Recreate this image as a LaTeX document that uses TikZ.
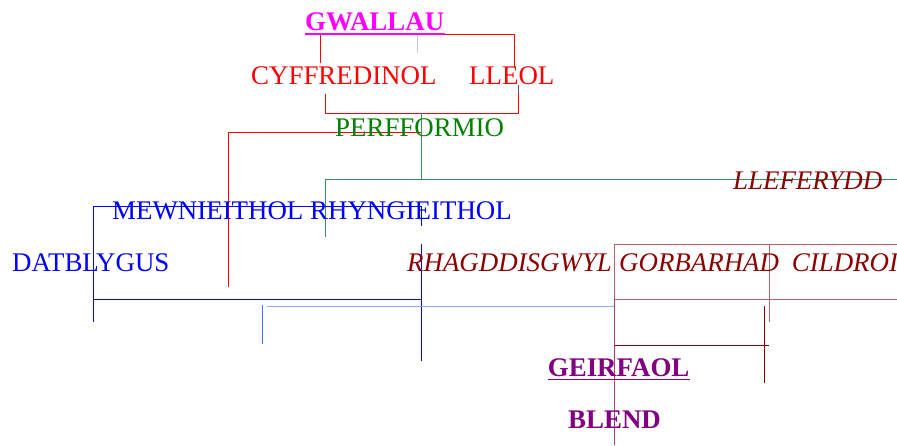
\documentclass[tikz,border=0pt]{standalone}
\usepackage{fontspec}
\setmainfont{Liberation Serif}
\definecolor{cmag}{HTML}{FF00FF}
\definecolor{cred}{HTML}{FF0000}
\definecolor{cgreen}{HTML}{008000}
\definecolor{cseag}{HTML}{3A8F5E}
\definecolor{cblue}{HTML}{0000FF}
\definecolor{clblue}{HTML}{8EA9F7}
\definecolor{cmblue}{HTML}{4470F0}
\definecolor{cdred}{HTML}{8B0000}
\definecolor{cbox}{HTML}{B06464}
\definecolor{cpurp}{HTML}{800080}
\definecolor{cmaroon}{HTML}{A0407A}
\definecolor{clav}{HTML}{D0C0F0}
\definecolor{cgrey}{HTML}{606060}
\begin{document}
\begin{tikzpicture}[x=1pt,y=-1pt,
  lbl/.style={inner sep=0pt,anchor=base west,font=\fontsize{26.9}{31}\selectfont},
  ln/.style={line width=1pt}]
\useasboundingbox (0,0) rectangle (897,445);
% connectors
\draw[ln,cred] (320.7,63) -- (320.7,34) -- (514,34) -- (514,68);
\draw[ln,clav] (417,34) -- (417,53);
\draw[ln,cred] (325.7,94) -- (325.7,113) -- (518,113) -- (518,94);
\draw[ln,cgrey] (518,85) -- (518,94);
\draw[ln,cred] (421.7,132) -- (228,132) -- (228,287);
\draw[ln,cseag] (421.7,113) -- (421.7,179);
\draw[ln,cseag] (897,179) -- (325,179) -- (325,237);
\draw[ln,cblue] (421.7,206.3) -- (93,206.3) -- (93,322);
\draw[ln,cblue] (421.7,206.3) -- (421.7,226);
\draw[ln,cblue] (421.7,244) -- (421.7,361);
\draw[ln,cblue] (93,299) -- (421.7,299);
\draw[ln,clblue,line width=1.3pt] (266.7,306.7) -- (614,306.7);
\draw[ln,cmblue] (262.3,305) -- (262.3,344);
\draw[ln,cbox] (897,244.7) -- (614,244.7) -- (614,299.3) -- (897,299.3);
\draw[ln,cbox] (769,244.7) -- (769,322);
\draw[ln,cdred] (614,345.7) -- (769,345.7);
\draw[ln,cdred] (764.3,306) -- (764.3,382.7);
\draw[ln,cmaroon] (614,299.3) -- (614,445);
% labels
\node[lbl,text=cmag] (gwallau) at (305,30.7) {\bfseries GWALLAU};
\draw[line width=1.5pt,cmag] (305,34) -- (445,34);
\node[lbl,text=cred] (cyff) at (251,84) {CYFFREDINOL};
\node[lbl,text=cred] (lleol) at (469,84) {LLEOL};
\node[lbl,text=cgreen] (perf) at (335,136) {PERFFORMIO};
\node[lbl,text=cdred] (llef) at (733,189.3) {\itshape LLEFERYDD};
\node[lbl,text=cblue] (mewn) at (112,219) {MEWNIEITHOL RHYNGIEITHOL};
\node[lbl,text=cblue] (datb) at (12,271.7) {DATBLYGUS};
\node[lbl,text=cdred] (rhag) at (407,271.7) {\itshape RHAGDDISGWYL};
\node[lbl,text=cdred] (gorb) at (619,271.7) {\itshape GORBARHAD};
\node[lbl,text=cdred] (cild) at (791.7,271.7) {\itshape CILDROI};
\node[lbl,text=cpurp] (geir) at (547.7,376) {\bfseries GEIRFAOL};
\draw[line width=1.5pt,cpurp] (547.7,379.5) -- (689.5,379.5);
\node[lbl,text=cpurp] (blend) at (568,428) {\bfseries BLEND};
\end{tikzpicture}
\end{document}
